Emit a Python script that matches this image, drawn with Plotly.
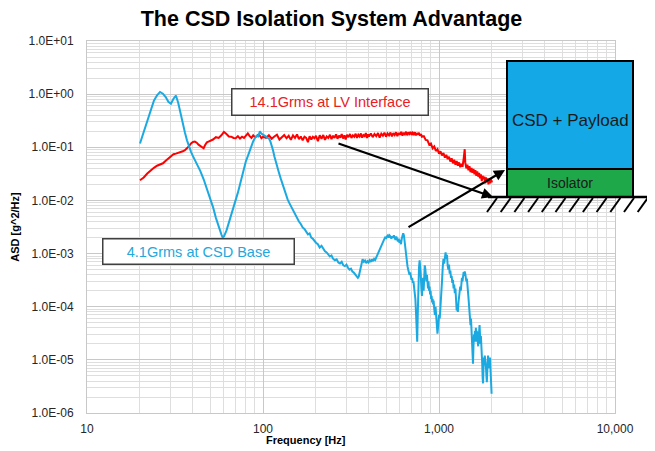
import plotly.graph_objects as go

# LV interface input (red)
lv_hz = [20, 21, 22, 23, 24, 25, 26, 27, 28, 29, 30, 31, 32, 33, 34, 35, 36, 37, 38, 39,
         40, 41, 42, 43, 44, 45, 46, 47, 48, 49, 50, 52, 54, 56, 58, 60, 62, 64, 66, 68,
         70, 72, 74, 76, 78, 80, 82, 84, 86, 88, 90, 92, 94, 96, 98,
         100, 104, 108, 112, 116, 120, 124, 128, 132, 136, 140, 144, 148, 152, 156, 160,
         164, 168, 172, 176, 180, 184, 188, 192, 196, 200, 205, 210, 215, 220, 225, 230,
         235, 240, 245, 250, 255, 260, 265, 270, 275, 280, 285, 290, 295, 300, 306, 312,
         318, 324, 330, 336, 342, 348, 354, 360, 366, 372, 378, 384, 390, 396,
         400, 410, 420, 430, 440, 450, 460, 470, 480, 490, 500, 510, 520, 530, 540, 550,
         560, 570, 580, 590, 600, 610, 620, 630, 640, 650, 660, 670, 680, 690, 700, 710,
         720, 730, 740, 750, 760, 770, 780, 790, 800,
         820, 840, 860, 880, 900, 920, 940, 960, 980, 1000, 1020, 1040, 1060, 1080, 1100,
         1120, 1140, 1160, 1180, 1200, 1220, 1240, 1260, 1280, 1300, 1320, 1340, 1360,
         1380, 1400, 1410, 1430, 1450, 1470, 1490, 1510, 1530, 1550, 1570, 1590, 1610,
         1630, 1650, 1670, 1690, 1710, 1730, 1750, 1770, 1790, 1810, 1830, 1850, 1870,
         1890, 1910, 1930, 1950, 1970, 1990, 2000]
lv_asd = [0.024, 0.027, 0.032, 0.037, 0.041, 0.045, 0.048, 0.050, 0.056, 0.062, 0.068, 0.074,
          0.076, 0.078, 0.080, 0.084, 0.088, 0.095, 0.105, 0.118, 0.126, 0.128, 0.122, 0.112,
          0.105, 0.098, 0.096, 0.112, 0.124, 0.128, 0.132, 0.140, 0.155, 0.150, 0.168, 0.195,
          0.178, 0.160, 0.158, 0.150, 0.148, 0.162, 0.146, 0.158, 0.150, 0.170, 0.182, 0.162,
          0.150, 0.168, 0.155, 0.160, 0.172, 0.165, 0.148,
          0.158, 0.150, 0.168, 0.145, 0.160, 0.172, 0.140, 0.158, 0.170, 0.148, 0.165, 0.138,
          0.168, 0.150, 0.175, 0.142, 0.160, 0.135, 0.158, 0.150, 0.125, 0.162, 0.140, 0.158,
          0.148, 0.165, 0.130, 0.168, 0.145, 0.170, 0.138, 0.160, 0.150, 0.172, 0.142, 0.165,
          0.150, 0.175, 0.145, 0.166, 0.152, 0.178, 0.146, 0.168, 0.140, 0.172, 0.155, 0.178,
          0.150, 0.168, 0.158, 0.180, 0.150, 0.172, 0.160, 0.182, 0.152, 0.170, 0.162, 0.185,
          0.150, 0.175,
          0.160, 0.182, 0.155, 0.178, 0.162, 0.185, 0.152, 0.180, 0.165, 0.188, 0.158, 0.182,
          0.168, 0.190, 0.160, 0.185, 0.170, 0.192, 0.162, 0.186, 0.172, 0.195, 0.165, 0.188,
          0.175, 0.196, 0.168, 0.190, 0.178, 0.195, 0.170, 0.188, 0.176, 0.192, 0.168, 0.185,
          0.172, 0.188, 0.165, 0.178, 0.158,
          0.162, 0.138, 0.135, 0.112, 0.118, 0.096, 0.104, 0.085, 0.092, 0.076, 0.084, 0.070,
          0.078, 0.064, 0.072, 0.060, 0.066, 0.054, 0.062, 0.050, 0.058, 0.047, 0.055, 0.045,
          0.052, 0.042, 0.049, 0.043, 0.060, 0.092, 0.052, 0.040, 0.047, 0.037, 0.044, 0.034,
          0.041, 0.033, 0.039, 0.031, 0.037, 0.029, 0.035, 0.028, 0.033, 0.026, 0.031, 0.023,
          0.029, 0.025, 0.028, 0.021, 0.027, 0.022, 0.026, 0.020, 0.025, 0.021, 0.025, 0.022,
          0.024]

# CSD base response (blue)
csd_hz = [20, 21, 22, 23, 24, 25, 26, 27, 28, 29, 30, 31, 32, 33, 34, 35, 36, 37, 38, 39,
          40, 42, 44, 46, 48, 50, 52, 54, 56, 58, 59, 60, 62, 64, 66, 68, 70, 72, 74, 76,
          78, 80, 82, 84, 86, 88, 90, 92, 94, 96, 98, 100,
          102, 104, 106, 108, 110, 112, 114, 116, 118, 120, 123, 126, 129, 132, 135, 138,
          141, 144, 147, 150, 153, 156, 160, 164, 168, 172, 176, 180, 184, 188, 192, 196,
          200, 205, 210, 215, 220, 225, 230, 235, 240, 245, 250, 256, 262, 268, 274, 280,
          286, 292, 298, 304, 310, 316, 322, 328, 334, 340, 346, 350, 356, 362, 368, 374,
          380, 386, 392, 398, 404, 410, 416, 422, 428, 434, 440, 446, 452, 458, 464, 470,
          476, 482, 488, 494, 500, 506, 512, 518, 524, 530, 536, 542, 548, 554, 560, 566,
          572, 578, 584, 590, 596, 602, 608, 614, 620, 626, 632,
          638, 644, 650, 656, 662, 668, 674, 680, 686, 692, 698, 704, 710, 716, 722, 728,
          734, 740, 746, 752, 758, 764, 770, 776, 782, 788, 794, 800, 806, 812, 818, 824,
          830, 836, 842, 848, 854, 860, 866, 872, 878, 884, 890, 896, 902, 908, 914, 920,
          926, 932, 940, 948, 956, 964, 972, 980, 990, 1000, 1010, 1020, 1030, 1040, 1050,
          1060, 1070, 1080, 1090, 1100, 1110, 1120, 1130, 1140, 1150, 1160, 1170, 1180,
          1190, 1200, 1210, 1220, 1230, 1240, 1250, 1260, 1270, 1280, 1290, 1300, 1310,
          1320, 1330, 1340, 1350, 1360, 1370, 1380, 1390, 1400, 1410, 1420, 1430, 1440,
          1450, 1460, 1470, 1480, 1490, 1500, 1510, 1520, 1530, 1540, 1550, 1560, 1570,
          1580, 1590, 1600, 1610, 1620, 1630, 1640, 1650, 1660, 1670, 1680, 1690, 1700,
          1710, 1720, 1730, 1740, 1750, 1760, 1770, 1780, 1790, 1800, 1810, 1820, 1830,
          1840, 1850, 1860, 1870, 1880, 1890, 1900, 1910, 1920, 1930, 1940, 1950, 1960,
          1970, 1980, 1990]
csd_asd = [0.118, 0.19, 0.30, 0.46, 0.75, 0.95, 1.10, 1.02, 0.88, 0.72, 0.66, 0.82, 0.94,
           0.68, 0.42, 0.28, 0.19, 0.135, 0.10, 0.082, 0.068, 0.050, 0.036, 0.025, 0.017,
           0.0115, 0.0075, 0.0047, 0.0031, 0.0023, 0.0020, 0.0021, 0.0027, 0.0038, 0.0052,
           0.0072, 0.0100, 0.014, 0.020, 0.029, 0.040, 0.055, 0.068, 0.085, 0.11, 0.13, 0.15,
           0.165, 0.16, 0.20, 0.18, 0.175,
           0.165, 0.160, 0.150, 0.148, 0.130, 0.110, 0.088, 0.068, 0.054, 0.044, 0.034, 0.026,
           0.020, 0.016, 0.013, 0.0105, 0.0090, 0.0078, 0.0070, 0.0058, 0.0052, 0.0047, 0.0040,
           0.0036, 0.0031, 0.0029, 0.0025, 0.0023, 0.0024, 0.0020, 0.0019, 0.0017, 0.0016,
           0.0015, 0.0013, 0.0014, 0.0012, 0.0011, 0.00105, 0.00098, 0.00088, 0.00092,
           0.00080, 0.00075, 0.00078, 0.00068, 0.00065, 0.00070, 0.00060, 0.00058, 0.00062,
           0.00054, 0.00050, 0.00052, 0.00046, 0.00044, 0.00041, 0.00038, 0.00035, 0.00037,
           0.00048, 0.00068, 0.00078, 0.00070, 0.00074, 0.00066, 0.00072, 0.00068, 0.00075,
           0.00070, 0.00078, 0.00072, 0.00080, 0.00076, 0.00085, 0.00095, 0.00100, 0.00115,
           0.00125, 0.00135, 0.00150, 0.00170, 0.00185, 0.0020, 0.0019, 0.0021, 0.0022,
           0.0020, 0.0022, 0.0021, 0.0019, 0.0021, 0.0020, 0.0022, 0.0019, 0.0018, 0.0021,
           0.0019, 0.0017, 0.0019, 0.0016, 0.0018, 0.0015, 0.0019, 0.0021, 0.0024, 0.0022,
           0.0016, 0.0012, 0.00085, 0.00065, 0.00058, 0.00050, 0.00046, 0.00040, 0.00044,
           0.00036, 0.00032, 0.00035, 0.00028, 0.00030, 0.00024, 0.00020, 0.00014, 0.00008,
           0.00004, 0.000022, 0.00008, 0.00030, 0.00055, 0.00075, 0.00060, 0.00040, 0.00022,
           0.00016, 0.00025, 0.00035, 0.00020, 0.00045, 0.00060, 0.00052, 0.00038, 0.00030,
           0.00040, 0.00028, 0.00022, 0.00030, 0.00020, 0.00024, 0.00017, 0.00020, 0.00014,
           0.00016, 0.00012, 0.00014, 0.00011, 0.00013, 0.00009, 0.00007, 0.00010, 0.00006,
           0.00004, 0.000031, 0.000045, 0.00007, 0.00006, 0.00009, 0.00015, 0.00030, 0.00055,
           0.00080, 0.00065, 0.00090, 0.00105, 0.00080, 0.00095, 0.00060, 0.00050, 0.00062,
           0.00042, 0.00048, 0.00035, 0.00038, 0.00028, 0.00032, 0.00022, 0.00026, 0.00018,
           0.00022, 0.00012, 0.000085, 0.00010, 0.00008, 0.00012, 0.00016, 0.00020, 0.00024,
           0.00020, 0.00028, 0.00035, 0.00030, 0.00040, 0.00045, 0.00038, 0.00046, 0.00042,
           0.00036, 0.00030, 0.00034, 0.00028, 0.00022, 0.00015, 0.00011, 0.000075, 0.00006,
           0.000045, 0.000060, 0.000035, 0.000025, 0.000012, 0.0000085, 0.000018, 0.000030,
           0.000022, 0.000035, 0.000028, 0.000040, 0.000022, 0.000035, 0.000025, 0.000030,
           0.000018, 0.000026, 0.000040, 0.000045, 0.000030, 0.000020, 0.000028, 0.000012,
           0.000018, 0.0000085, 0.0000045, 0.0000036, 0.000007, 0.000011, 0.000009, 0.000012,
           0.000008, 0.000011, 0.000007, 0.000005, 0.0000038, 0.000006, 0.000009, 0.000012,
           0.000008, 0.000011, 0.000007, 0.000010, 0.000011, 0.000007, 0.000005, 0.0000035,
           0.0000023]

y_tickvals = [1e1, 1e0, 1e-1, 1e-2, 1e-3, 1e-4, 1e-5, 1e-6]
y_ticktext = ["1.0E+01", "1.0E+00", "1.0E-01", "1.0E-02", "1.0E-03", "1.0E-04", "1.0E-05", "1.0E-06"]
x_tickvals = [10, 100, 1000, 10000]
x_ticktext = ["10", "100", "1,000", "10,000"]

RED = "#ff0000"
BLUE = "#1ba9e1"
FONT = "Liberation Sans, Arial, sans-serif"

# the page puts the figure 8px in from the top-left corner
OFF = 8
W, H = 655 - OFF, 451 - OFF
# plot area, in screen pixels
L, R, T, B = 87, 615, 41, 413


def px(x):
    return (x - L) / (R - L)


def py(y):
    return (B - y) / (B - T)


fig = go.Figure()
fig.add_trace(go.Scatter(x=lv_hz, y=lv_asd, mode="lines",
                         line=dict(color=RED, width=2), hoverinfo="skip"))
fig.add_trace(go.Scatter(x=csd_hz, y=csd_asd, mode="lines",
                         line=dict(color=BLUE, width=2), hoverinfo="skip"))

fig.update_layout(
    width=W, height=H,
    margin=dict(l=L - OFF, r=655 - R, t=T - OFF, b=451 - B),
    paper_bgcolor="white", plot_bgcolor="white",
    showlegend=False,
    font=dict(family=FONT, color="#262626", size=12),
    title=dict(text="<b>The CSD Isolation System Advantage</b>",
               x=0.5, xanchor="center", y=1 - (18 - OFF) / H, yanchor="middle",
               font=dict(size=21.5, color="black")),
)

fig.update_xaxes(
    type="log", range=[1, 4], automargin=False,
    tickvals=x_tickvals, ticktext=x_ticktext,
    showgrid=True, gridcolor="#c8c8c8", gridwidth=1,
    minor=dict(dtick="D1", showgrid=True, gridcolor="#dedede", gridwidth=1, ticks=""),
    showline=True, linecolor="#c8c8c8", mirror=True,
    ticks="outside", ticklen=5, tickcolor="rgba(0,0,0,0)",
    zeroline=False,
)
fig.update_yaxes(
    type="log", range=[-6, 1], automargin=False,
    tickvals=y_tickvals, ticktext=y_ticktext,
    showgrid=True, gridcolor="#c8c8c8", gridwidth=1,
    minor=dict(dtick="D1", showgrid=True, gridcolor="#dedede", gridwidth=1, ticks=""),
    showline=True, linecolor="#c8c8c8", mirror=True,
    ticks="outside", ticklen=10, tickcolor="rgba(0,0,0,0)",
    zeroline=False,
    title=dict(text="<b>ASD [g^2/Hz]</b>", standoff=6, font=dict(size=11, color="black")),
)

# x axis title sits left of the plot centre in the original
fig.add_annotation(xref="paper", yref="paper", x=px(306), y=py(440),
                   xanchor="center", yanchor="middle", showarrow=False,
                   text="<b>Frequency [Hz]</b>", font=dict(size=11, color="black"))

# text boxes
fig.add_annotation(xref="paper", yref="paper", x=px(330), y=py(102),
                   xanchor="center", yanchor="middle",
                   text="14.1Grms at LV Interface", showarrow=False,
                   font=dict(size=14.5, color="#e8201e"), bgcolor="white",
                   bordercolor="#404040", borderwidth=1.5, width=193, height=23)
fig.add_annotation(xref="paper", yref="paper", x=px(198), y=py(251.5),
                   xanchor="center", yanchor="middle",
                   text="4.1Grms at CSD Base", showarrow=False,
                   font=dict(size=14.5, color="#22a8dc"), bgcolor="white",
                   bordercolor="#404040", borderwidth=1.5, width=188, height=22)

# isolation diagram
fig.add_shape(type="rect", xref="paper", yref="paper",
              x0=px(507), x1=px(633), y0=py(169), y1=py(61),
              fillcolor="#14a9e6", line=dict(color="black", width=2))
fig.add_shape(type="rect", xref="paper", yref="paper",
              x0=px(507), x1=px(633), y0=py(197), y1=py(169),
              fillcolor="#1ea84a", line=dict(color="black", width=2))
fig.add_annotation(xref="paper", yref="paper", x=px(570), y=py(120),
                   xanchor="center", yanchor="middle",
                   text="CSD + Payload", showarrow=False,
                   font=dict(size=17, color="#1a1a1a"))
fig.add_annotation(xref="paper", yref="paper", x=px(570), y=py(183),
                   xanchor="center", yanchor="middle",
                   text="Isolator", showarrow=False,
                   font=dict(size=14, color="#1a1a1a"))
fig.add_shape(type="line", xref="paper", yref="paper",
              x0=px(488), x1=px(648), y0=py(197), y1=py(197),
              line=dict(color="black", width=2.5))
for i in range(12):
    top = 497 + i * 13.7
    fig.add_shape(type="line", xref="paper", yref="paper",
                  x0=px(top - 10), x1=px(top), y0=py(212), y1=py(198),
                  line=dict(color="black", width=2))

# arrows
fig.add_annotation(xref="paper", yref="paper", x=px(493), y=py(197),
                   ax=-156, ay=-54, text="", showarrow=True,
                   arrowhead=2, arrowsize=1, arrowwidth=2.2, arrowcolor="black")
fig.add_annotation(xref="paper", yref="paper", x=px(505), y=py(170),
                   ax=-98, ay=58, text="", showarrow=True,
                   arrowhead=2, arrowsize=1, arrowwidth=2.2, arrowcolor="black")

fig.write_html("out.html")
